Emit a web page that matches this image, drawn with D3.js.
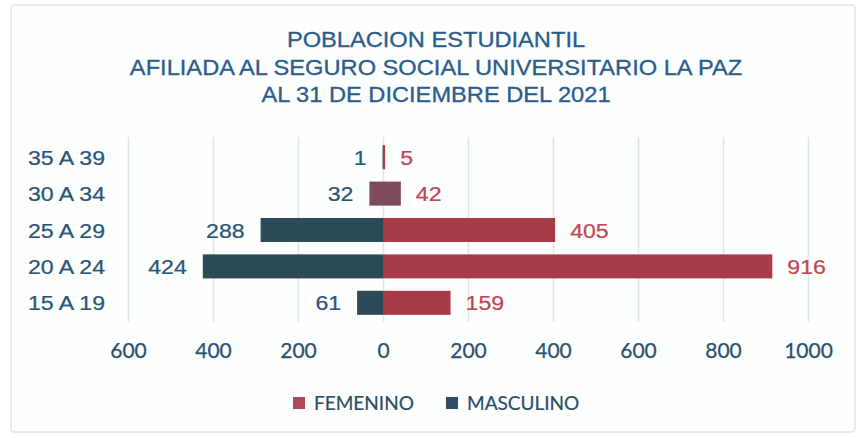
<!DOCTYPE html>
<html><head><meta charset="utf-8">
<script src="https://cdn.jsdelivr.net/npm/d3@7"></script>
<style>html,body{margin:0;padding:0;background:#fff;}svg{display:block;}</style>
</head><body>
<script>
const titleLines = ["POBLACION ESTUDIANTIL", "AFILIADA AL SEGURO SOCIAL UNIVERSITARIO LA PAZ", "AL 31 DE DICIEMBRE DEL 2021"];
const categories = ["35 A 39", "30 A 34", "25 A 29", "20 A 24", "15 A 19"];
const femenino  = [5, 42, 405, 916, 159];
const masculino = [1, 32, 288, 424, 61];
const tickValues = [-600, -400, -200, 0, 200, 400, 600, 800, 1000];
const legendLabels = ["FEMENINO", "MASCULINO"];

const W = 859, H = 438, SX = 1.1;
const C = {
  masc: "#2d4a58", fem: "#a73c48", mixed: "#7e4a5e",
  title: "#2b5c8c", cat: "#2b5577", mascText: "#2b5577", femText: "#c24552",
  tick: "#2a5070", grid: "#dfe5ea", frame: "#e2e6e9"
};
const svg = d3.select("body").append("svg").attr("width", W).attr("height", H);
svg.append("rect").attr("x", 11).attr("y", 5).attr("width", 844).attr("height", 427)
  .attr("rx", 3).attr("fill", "#fdfefe").attr("stroke", C.frame).attr("stroke-width", 1.5);

function stext(g, x, y, txt, opts) {
  return g.append("text")
    .attr("transform", `translate(${x},${y}) scale(${opts.sx || SX},1)`)
    .attr("text-anchor", opts.anchor || "start")
    .attr("dy", opts.dy || "0")
    .attr("font-family", opts.family || "'Liberation Sans', Arial, sans-serif")
    .attr("font-size", opts.size)
    .attr("fill", opts.fill)
    .attr("stroke", opts.fill)
    .attr("stroke-width", opts.sw == null ? 0.25 : opts.sw)
    .text(txt);
}

// title
titleLines.forEach((t, i) => stext(svg, 436, 47 + i * 27.5, t, {anchor: "middle", size: 21.5, fill: C.title, sw: 0.3}));

const x = d3.scaleLinear().domain([-600, 1000]).range([128, 808]);
const y = d3.scaleBand().domain(categories).range([139, 321]).paddingInner(0.34).paddingOuter(0.17);

// gridlines
svg.append("g").attr("transform", "translate(0,322)")
  .call(d3.axisBottom(x).tickValues(tickValues).tickSize(-185).tickFormat(""))
  .call(g => g.select(".domain").remove())
  .call(g => g.selectAll("line").attr("stroke", C.grid).attr("stroke-width", 1.6));

const rows = categories.map((c, i) => ({c, f: femenino[i], m: masculino[i]}));

// bars
const barColorM = d => (d.c === "30 A 34" ? C.mixed : C.masc);
const barColorF = d => (d.c === "30 A 34" ? C.mixed : C.fem);
svg.append("g").selectAll("rect").data(rows).join("rect")
  .attr("x", d => x(-d.m)).attr("y", d => y(d.c))
  .attr("width", d => Math.max(x(0) - x(-d.m), 0.6)).attr("height", y.bandwidth())
  .attr("fill", barColorM);
svg.append("g").selectAll("rect").data(rows).join("rect")
  .attr("x", x(0)).attr("y", d => y(d.c))
  .attr("width", d => x(d.f) - x(0)).attr("height", y.bandwidth())
  .attr("fill", barColorF);

// category labels
rows.forEach(d => stext(svg, 28, y(d.c) + y.bandwidth() / 2, d.c, {size: 21, fill: C.cat, dy: "0.36em"}));

// value labels
rows.forEach(d => {
  stext(svg, x(-d.m) - 16, y(d.c) + y.bandwidth() / 2, d.m, {anchor: "end", size: 21, fill: C.mascText, dy: "0.36em"});
  stext(svg, x(d.f) + 15, y(d.c) + y.bandwidth() / 2, d.f, {size: 21, fill: C.femText, dy: "0.36em"});
});

// axis labels
svg.append("g").attr("transform", "translate(0,322)")
  .call(d3.axisBottom(x).tickValues(tickValues).tickSize(0).tickPadding(21).tickFormat(v => Math.abs(v)))
  .call(g => g.select(".domain").remove())
  .call(g => g.selectAll("text").attr("font-family", "Lato, 'Open Sans', sans-serif")
    .attr("font-size", 21).attr("fill", C.tick).attr("stroke", C.tick).attr("stroke-width", 0.25));

// legend
const legend = svg.append("g");
const legItems = [{t: legendLabels[0], c: "#b04a5a", x: 293}, {t: legendLabels[1], c: "#2c4d62", x: 446}];
legItems.forEach(it => {
  legend.append("rect").attr("x", it.x).attr("y", 397).attr("width", 12).attr("height", 12).attr("fill", it.c);
  stext(legend, it.x + 21, 410, it.t, {size: 19, fill: "#2a4d66", family: "Lato, 'Open Sans', sans-serif", sx: 1.0, sw: 0.2});
});
</script>
</body></html>
